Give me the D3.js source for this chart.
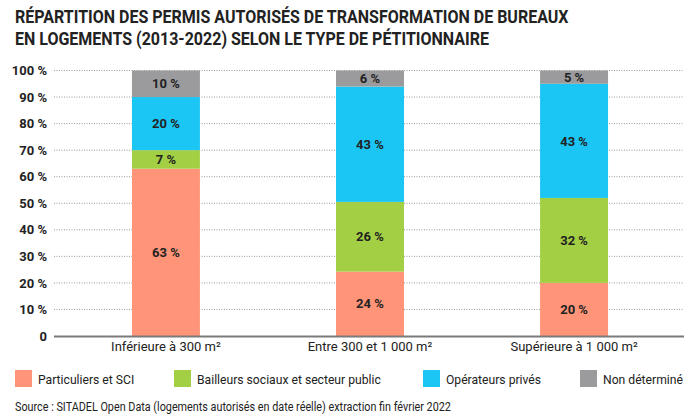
<!DOCTYPE html>
<html>
<head>
<meta charset="utf-8">
<script src="https://cdn.jsdelivr.net/npm/d3@7"></script>
<style>
  body { margin: 0; background: #fff; }
  text { font-family: "Roboto", sans-serif; fill: #222; }
</style>
</head>
<body>
<div id="chart"></div>
<script>
// categories and series (values in %)
const categories = ["Inférieure à 300 m²", "Entre 300 et 1 000 m²", "Supérieure à 1 000 m²"];
const series = ["Particuliers et SCI", "Bailleurs sociaux et secteur public", "Opérateurs privés", "Non déterminé"];
const particuliers = [63, 24, 20];
const bailleurs = [7, 26, 32];
const operateurs = [20, 43, 43];
const nonDetermine = [10, 6, 5];
const yTicks = [0, 10, 20, 30, 40, 50, 60, 70, 80, 90, 100];

const colors = ["#ff9478", "#a3cf44", "#1bc5f4", "#9b9b9e"];

const w = 691, h = 418;

// squeeze text a bit to mimic the condensed font of the original
function condense(sel, k) {
  sel.each(function () {
    const len = this.getComputedTextLength();
    d3.select(this).attr("textLength", len * k).attr("lengthAdjust", "spacingAndGlyphs");
  });
}

const svg = d3.select("#chart").append("svg")
  .attr("width", w).attr("height", h);

// title
const title = svg.append("g")
  .style("font-size", "18.4px").style("font-weight", "bold");
title.append("text").attr("x", 15).attr("y", 23).text("RÉPARTITION DES PERMIS AUTORISÉS DE TRANSFORMATION DE BUREAUX");
title.append("text").attr("x", 15).attr("y", 45).text("EN LOGEMENTS (2013-2022) SELON LE TYPE DE PÉTITIONNAIRE");
title.selectAll("text").call(condense, 0.87);

// build table for stacking
const table = categories.map((c, i) => ({
  cat: c,
  [series[0]]: particuliers[i],
  [series[1]]: bailleurs[i],
  [series[2]]: operateurs[i],
  [series[3]]: nonDetermine[i]
}));

const stacked = d3.stack().keys(series).offset(d3.stackOffsetExpand)(table);

const x = d3.scaleBand().domain(categories).range([64, 676])
  .paddingInner(0.667).paddingOuter(0.333);
const y = d3.scaleLinear().domain([0, 1]).range([336, 70.5]);

// gridlines
svg.append("g").selectAll("line")
  .data(yTicks.slice(1))
  .enter().append("line")
  .attr("x1", 54).attr("x2", 683)
  .attr("y1", d => y(d / 100)).attr("y2", d => y(d / 100))
  .attr("stroke", "#999").attr("stroke-width", 1)
  .attr("stroke-dasharray", "1,1.5");

// y axis labels
const yAxis = d3.axisLeft(y)
  .tickValues(yTicks.map(d => d / 100))
  .tickFormat(d => d === 0 ? "0" : Math.round(d * 100) + " %")
  .tickSize(0).tickPadding(0);
const gy = svg.append("g").attr("transform", "translate(47,0)").call(yAxis);
gy.select(".domain").remove();
gy.selectAll("text").style("font-size", "13px").style("font-weight", "bold").attr("fill", "#222");

// bars
const layers = svg.append("g").selectAll("g")
  .data(stacked).enter().append("g")
  .attr("fill", (d, i) => colors[i]);

layers.selectAll("rect")
  .data(d => d).enter().append("rect")
  .attr("x", d => x(d.data.cat))
  .attr("width", x.bandwidth())
  .attr("y", d => y(d[1]))
  .attr("height", d => y(d[0]) - y(d[1]));

// value labels
layers.selectAll("text")
  .data(d => d.map(v => Object.assign(v, { key: d.key }))).enter().append("text")
  .attr("x", d => x(d.data.cat) + x.bandwidth() / 2)
  .attr("y", d => (y(d[0]) + y(d[1])) / 2)
  .attr("dy", "0.36em")
  .attr("text-anchor", "middle")
  .style("font-size", "13px").style("font-weight", "bold").attr("fill", "#333")
  .text(d => d.data[d.key] + " %");

// x axis
const xAxis = d3.axisBottom(x).tickSize(0).tickPadding(6);
const gx = svg.append("g").attr("transform", "translate(0,336)").call(xAxis);
gx.select(".domain").remove();
gx.selectAll("text").style("font-size", "13px").attr("fill", "#222");
svg.append("line")
  .attr("x1", 54).attr("x2", 684).attr("y1", 336.5).attr("y2", 336.5)
  .attr("stroke", "#7a7a7a").attr("stroke-width", 2);

// legend
const legendX = [15, 174, 423, 580];
const legend = svg.append("g").selectAll("g")
  .data(series).enter().append("g")
  .attr("transform", (d, i) => `translate(${legendX[i]},370)`);
legend.append("rect").attr("width", 17).attr("height", 17)
  .attr("fill", (d, i) => colors[i]);
legend.append("text").attr("x", 23).attr("y", 13.5)
  .style("font-size", "13.5px").text(d => d)
  .call(condense, 0.9);

// source
svg.append("text").attr("x", 15).attr("y", 411)
  .style("font-size", "12px")
  .text("Source : SITADEL Open Data (logements autorisés en date réelle) extraction fin février 2022")
  .call(condense, 0.9);
</script>
</body>
</html>
